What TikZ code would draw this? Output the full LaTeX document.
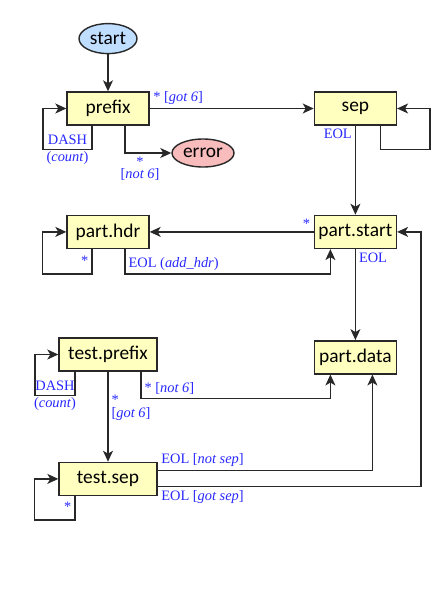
\documentclass[tikz,border=0pt]{standalone}
\usepackage{fontspec}
\newfontfamily\statefont{Carlito}
\newfontfamily\edgefont{Liberation Serif}
\usetikzlibrary{positioning,arrows.meta,shapes.geometric,calc}
\definecolor{FsmInk}{RGB}{40,40,40}
\definecolor{FsmState}{RGB}{255,255,192}
\definecolor{FsmStart}{RGB}{192,222,255}
\definecolor{FsmError}{RGB}{248,188,188}
\definecolor{FsmLabel}{RGB}{40,40,255}
\tikzset{
  fsm node/.style={
    draw=FsmInk,
    line width=0.7pt,
    font=\statefont\fontsize{9.7}{11}\selectfont,
    text=black,
    inner sep=1pt
  },
  fsm state/.style={fsm node, rectangle, fill=FsmState, minimum width=41pt, minimum height=16.5pt},
  fsm wide/.style={fsm state, minimum width=49pt},
  fsm start/.style={fsm node, ellipse, fill=FsmStart, minimum width=29pt, minimum height=15pt},
  fsm error/.style={fsm node, ellipse, fill=FsmError, minimum width=29pt, minimum height=14pt},
  fsm arrow/.style={-{Stealth[length=5.5pt,width=5pt,inset=1.5pt]}, line width=0.65pt, FsmInk},
  fsm label/.style={font=\edgefont\fontsize{7.2}{8.4}\selectfont, text=FsmLabel, inner sep=1.5pt}
}

\begin{document}
\begin{tikzpicture}[x=0.5pt, y=-0.5pt]
\useasboundingbox (0,0) rectangle (440,600);
\node[fsm state] (prefix) at (108,108.5) {prefix};
\node[fsm start, above=18.5pt of prefix] (start) {start};
\node[fsm state, right=82pt of prefix] (sep) {sep};
\node[fsm error] (error) at (203,153) {error};
\node[fsm state, below=44.5pt of sep] (pstart) {part.start};
\node[fsm state, left=82pt of pstart] (phdr) {part.hdr};
\node[fsm state, below=45.5pt of pstart] (pdata) {part.data};
\node[fsm wide] (tprefix) at (108,354.5) {test.prefix};
\node[fsm wide, below=45pt of tprefix] (tsep) {test.sep};
% prefix
\draw[fsm arrow] (start) -- (prefix);
\draw[fsm arrow] (prefix) -- node[fsm label, pos=0, above right] {* [\textit{got 6}]} (sep);
\draw[fsm arrow] ($(prefix.south)+(17,0)$) |- node[fsm label, pos=0.5, below, xshift=7.5pt, align=center] {*\\[-2pt]{[}\textit{not 6}]} (error);
\draw[fsm arrow] ($(prefix.south)+(-16,0)$) -- ++(0,24) -- node[fsm label, align=center] {DASH\\(\textit{count})} ++(-49,0) |- (prefix.west);
% sep
\draw[fsm arrow] ($(sep.south)+(25,0)$) -- ++(0,24) -| ($(sep.east)+(33,0)$) -- (sep.east);
\draw[fsm arrow] (sep) -- node[fsm label, pos=0, anchor=north east] {EOL} (pstart);
% part
\draw[fsm arrow] (pstart) -- node[fsm label, pos=0, above left] {*} (phdr);
\draw[fsm arrow] ($(phdr.south)+(-16,0)$) -- node[fsm label, left, pos=0.45] {*} ++(0,25) -| ($(phdr.west)+(-24,0)$) -- (phdr.west);
\draw[fsm arrow] ($(phdr.south)+(17,0)$) |- node[fsm label, pos=0.5, above right] {EOL (\textit{add\_hdr})} ($(pstart.south)+(-25,25)$) -- ($(pstart.south)+(-25,0)$);
\draw[fsm arrow] (pstart) -- node[fsm label, pos=0, anchor=north west] {EOL} (pdata);
% test
\draw[fsm arrow] ($(tprefix.south)+(-33,0)$) -- ++(0,24) -- node[fsm label, align=center] {DASH\\(\textit{count})} ++(-40,0) |- (tprefix.west);
\draw[fsm arrow] ($(tprefix.south)+(33,0)$) |- node[fsm label, pos=0.5, above right] {* [\textit{not 6}]} ($(pdata.south)+(-25,24)$) -- ($(pdata.south)+(-25,0)$);
\draw[fsm arrow] (tprefix) -- node[fsm label, pos=0.4, right, align=left] {*\\[-2pt]{[}\textit{got 6}]} (tsep);
\draw[fsm arrow] ($(tsep.east)+(0,-8.5)$) -| node[fsm label, pos=0, above right] {EOL [\textit{not sep}]} ($(pdata.south)+(17,0)$);
\draw[fsm arrow] ($(tsep.east)+(0,7.5)$) -| node[fsm label, pos=0, below right] {EOL [\textit{got sep}]} ($(pstart.east)+(24,0)$) -- (pstart.east);
\draw[fsm arrow] ($(tsep.south)+(-33,0)$) -- node[fsm label, left, pos=0.45] {*} ++(0,24) -| ($(tsep.west)+(-24,0)$) -- (tsep.west);
\end{tikzpicture}
\end{document}
